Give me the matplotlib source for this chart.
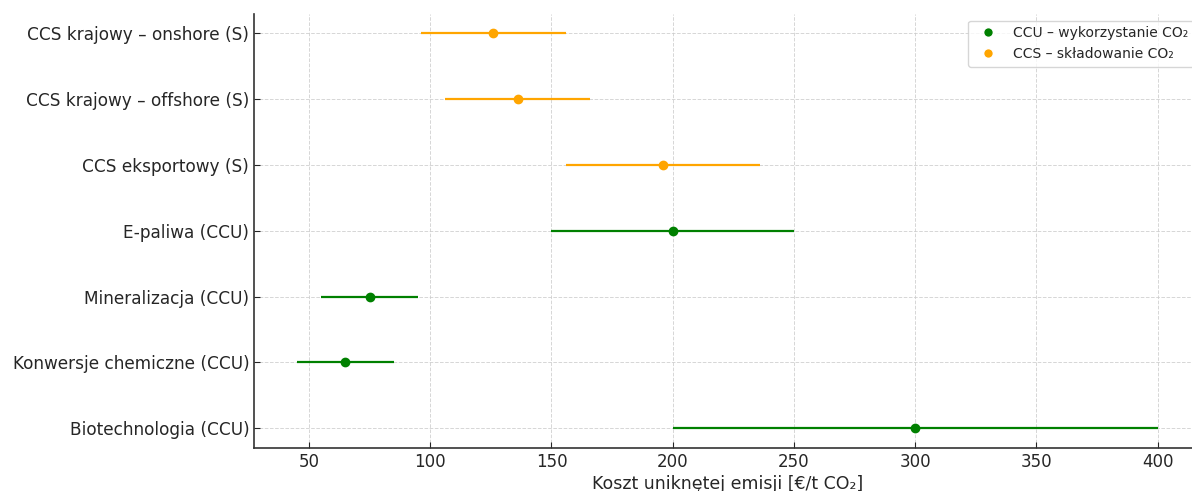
import numpy as np
import matplotlib
matplotlib.use("Agg")
import matplotlib.pyplot as plt
from matplotlib.lines import Line2D

# Data (from top to bottom on the chart)
labels = [
    "CCS krajowy – onshore (S)",
    "CCS krajowy – offshore (S)",
    "CCS eksportowy (S)",
    "E-paliwa (CCU)",
    "Mineralizacja (CCU)",
    "Konwersje chemiczne (CCU)",
    "Biotechnologia (CCU)",
]
cost_mid = [126, 136, 196, 200, 75, 65, 300]
cost_low = [96, 106, 156, 150, 55, 45, 200]
cost_high = [156, 166, 236, 250, 95, 85, 400]
group = ["CCS", "CCS", "CCS", "CCU", "CCU", "CCU", "CCU"]

colors = {"CCU": "green", "CCS": "orange"}

plt.rcParams['font.family'] = ['DejaVu Sans']
plt.rcParams['text.color'] = '#262626'
plt.rcParams['xtick.color'] = '#262626'
plt.rcParams['ytick.color'] = '#262626'
plt.rcParams['axes.labelcolor'] = '#262626'

fig = plt.figure(figsize=(11.92, 4.91), dpi=100)
ax = fig.add_axes([0.2131, 0.088, 0.794, 0.884])

n = len(labels)
ypos = np.arange(n)[::-1]

for i in range(n):
    c = colors[group[i]]
    err = [[cost_mid[i] - cost_low[i]], [cost_high[i] - cost_mid[i]]]
    ax.errorbar(cost_mid[i], ypos[i], xerr=err, fmt='o', color=c,
                ecolor=c, elinewidth=1.6, markersize=6, capsize=0, zorder=3)

ax.set_yticks(ypos)
ax.set_yticklabels(labels, fontsize=12.2)
ax.set_xticks(np.arange(50, 401, 50))
ax.tick_params(axis='x', labelsize=12, direction='in', length=4)
ax.tick_params(axis='y', direction='in', length=4)
ax.set_xlim(27.3, 417.7)
ax.set_ylim(-0.3, n - 1 + 0.3)
ax.set_xlabel("Koszt uniknętej emisji [€/t CO₂]", fontsize=12.5, labelpad=3)

ax.grid(True, linestyle='--', color='#cccccc', linewidth=0.7, alpha=0.8)
ax.set_axisbelow(True)
ax.spines['top'].set_visible(False)
ax.spines['right'].set_visible(False)
for s in ['left', 'bottom']:
    ax.spines[s].set_color('#333333')
    ax.spines[s].set_linewidth(1.2)

handles = [
    Line2D([0], [0], marker='o', color='w', markerfacecolor='green',
           markersize=7, label='CCU – wykorzystanie CO₂'),
    Line2D([0], [0], marker='o', color='w', markerfacecolor='orange',
           markersize=7, label='CCS – składowanie CO₂'),
]
ax.legend(handles=handles, loc='upper right', fontsize=10)

fig.savefig("out.png", dpi=100)
